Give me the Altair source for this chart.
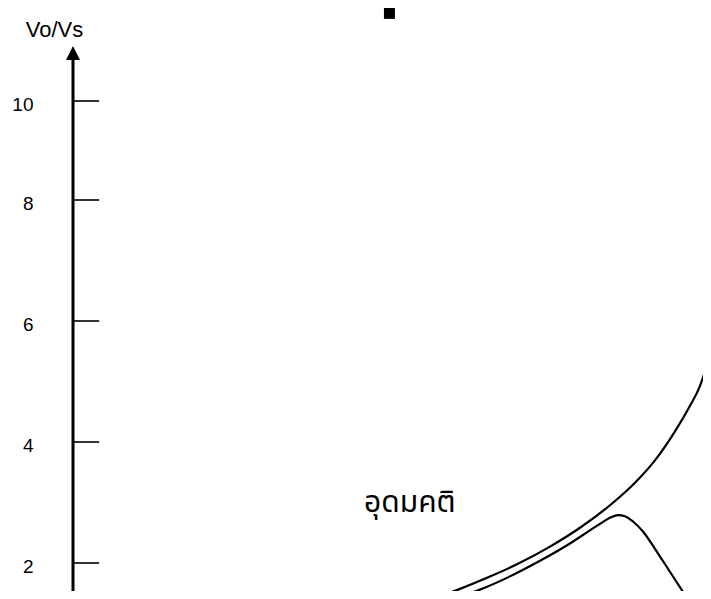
import altair as alt
import pandas as pd

# Ideal curve (upper) : duty ratio D -> Vo/Vs
ideal_d = [0.5627, 0.6066, 0.6536, 0.7006, 0.7476, 0.7947, 0.8417, 0.8809, 0.9122, 0.9436, 0.9671, 0.9828, 0.9922, 1.0000]
ideal_v = [1.405, 1.572, 1.775, 2.003, 2.271, 2.583, 2.955, 3.327, 3.697, 4.177, 4.598, 4.929, 5.226, 5.574]

# Real curve (with losses)
real_d = [0.5940, 0.6379, 0.6850, 0.7320, 0.7790, 0.8103, 0.8292, 0.8433, 0.8542, 0.8652, 0.8777, 0.8934, 0.9122, 0.9357, 0.9639]
real_v = [1.405, 1.560, 1.779, 2.036, 2.322, 2.539, 2.668, 2.757, 2.792, 2.772, 2.686, 2.521, 2.235, 1.855, 1.397]

tick_values = [2, 4, 6, 8, 10]
label_text = ["อุดมคติ"]
label_d = [0.528]
label_v = [2.84]
marker_d = [0.496]
marker_v = [11.77]
axis_bottom = [1.2]
axis_top = [10.83]
arrow_v = [10.97]
tick_len = 0.041

ideal_df = pd.DataFrame({"d": ideal_d, "v": ideal_v})
real_df = pd.DataFrame({"d": real_d, "v": real_v})
ticks_df = pd.DataFrame({"v": tick_values, "d0": [0.0] * len(tick_values), "d1": [tick_len] * len(tick_values)})
axis_df = pd.DataFrame({"d": [0.0], "v0": axis_bottom, "v1": axis_top})
arrow_df = pd.DataFrame({"d": [0.0], "v": arrow_v})
label_df = pd.DataFrame({"d": label_d, "v": label_v, "t": label_text})
marker_df = pd.DataFrame({"d": marker_d, "v": marker_v})

yscale = alt.Scale(domain=[2, 4, 6, 8, 10], range=[555, 434, 313, 192, 93], nice=False, zero=False)
xscale = alt.Scale(domain=[0, 0.9875], nice=False, zero=False)
yaxis = alt.Axis(values=tick_values, ticks=False, domain=False, grid=False,
                 labelPadding=40, labelFontSize=19, labelFont="Liberation Sans",
                 labelColor="black", labelOffset=3, labelBaseline="middle",
                 title="Vo/Vs", titleAngle=0, titleX=-19, titleY=28, titleAlign="center",
                 titleBaseline="alphabetic", titleFontSize=22, titleFontWeight="normal",
                 titleFont="Liberation Sans", titleColor="black")


def X(f):
    return alt.X(f, type="quantitative", scale=xscale, axis=None)


def Y(f):
    return alt.Y(f, type="quantitative", scale=yscale, axis=yaxis)


ideal = alt.Chart(ideal_df).mark_line(color="black", strokeWidth=2.2, interpolate="monotone", clip=True).encode(
    x=X("d"), y=Y("v"))

real = alt.Chart(real_df).mark_line(color="black", strokeWidth=2.2, interpolate="monotone", clip=True).encode(
    x=X("d"), y=Y("v"))

ticks = alt.Chart(ticks_df).mark_rule(color="black", strokeWidth=1.6).encode(
    x=X("d0"), x2="d1", y=Y("v"))

axis_line = alt.Chart(axis_df).mark_rule(color="black", strokeWidth=3).encode(
    x=X("d"), y=Y("v0"), y2="v1")

arrow = alt.Chart(arrow_df).mark_point(shape="M0,-1L1,1L-1,1Z", size=196, filled=True,
                                       color="black", opacity=1, strokeWidth=0).encode(
    x=X("d"), y=Y("v"))

marker = alt.Chart(marker_df).mark_square(size=121, color="black", opacity=1).encode(
    x=X("d"), y=Y("v"))

label = alt.Chart(label_df).mark_text(font="Noto Sans Thai, Noto Sans, DejaVu Sans, sans-serif",
                                      fontSize=30, align="center",
                                      baseline="alphabetic", color="black").encode(
    x=X("d"), y=Y("v"), text="t:N")

chart = alt.layer(axis_line, arrow, ticks, ideal, real, label, marker).properties(
    width=630, height=583,
    autosize=alt.AutoSizeParams(type="none"),
    padding={"left": 65, "top": 0, "right": 0, "bottom": 0},
    background="white",
).configure_view(stroke=None)

chart.save("out.html", embed_options={"renderer": "svg", "actions": False})
